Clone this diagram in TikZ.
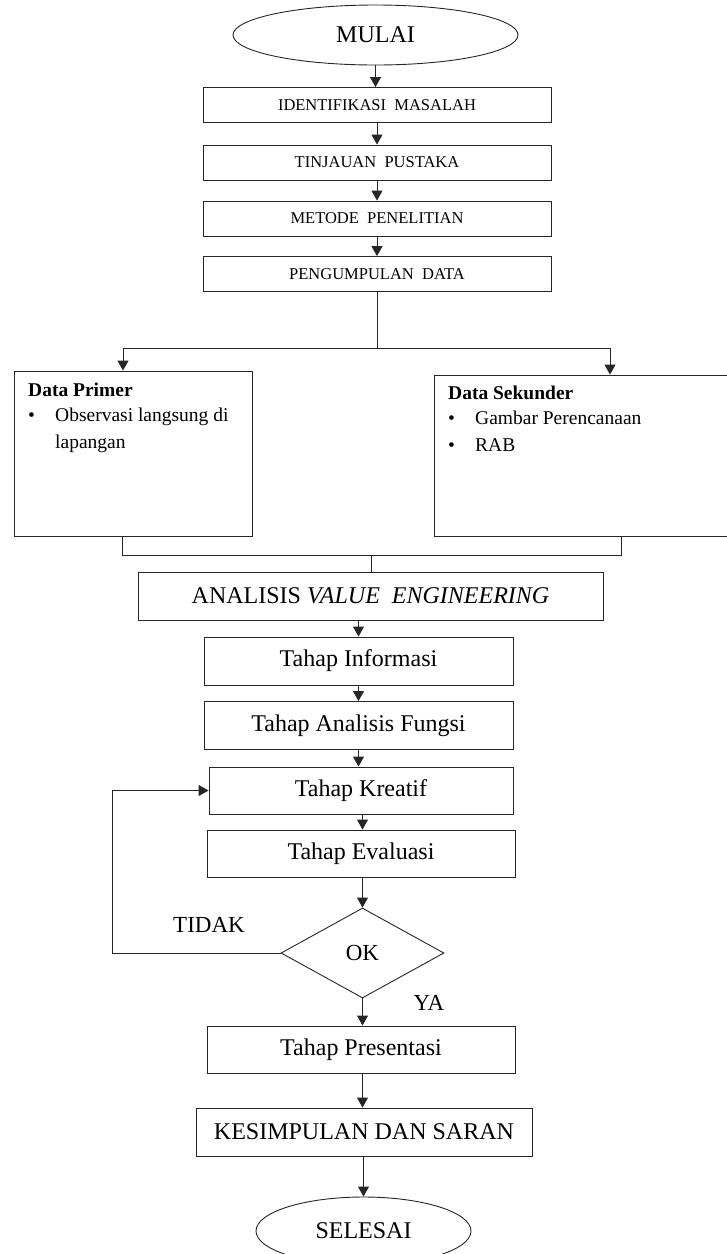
\documentclass[tikz,border=0pt]{standalone}
\usepackage{fontspec}
\setmainfont{Liberation Serif}
\usetikzlibrary{shapes.geometric,arrows.meta,calc}
\begin{document}
\begin{tikzpicture}[x=1pt,y=-1pt,
  line/.style={draw=black!85, line width=0.9pt},
  arr/.style={line, -{Triangle[length=10pt,width=11pt]}},
  bigfont/.style={font=\fontsize{24}{28}\selectfont},
  topbox/.style={rectangle, line, inner sep=0pt, minimum width=348pt,
    minimum height=35pt, font=\fontsize{16.5}{19}\selectfont},
  midbox/.style={rectangle, line, inner sep=0pt, minimum height=48pt, bigfont},
  term/.style={ellipse, line, inner sep=0pt, bigfont},
  databox/.style={rectangle, line, inner sep=0pt},
  datatext/.style={anchor=base west, inner sep=0pt, font=\fontsize{19.5}{23}\selectfont},
  lbl/.style={inner sep=0pt, font=\fontsize{23}{27}\selectfont}]

\useasboundingbox (0,0) rectangle (727,1254);
\clip (0,0) rectangle (727,1254);

% preparation stages
\node[term, minimum width=285pt, minimum height=60pt] (mulai) at (375.5,35) {MULAI};
\node[topbox] (ident)  at (377,105)   {IDENTIFIKASI\ \ MASALAH};
\node[topbox] (tinjau) at (377,162.5) {TINJAUAN\ \ PUSTAKA};
\node[topbox] (metode) at (377,218.5) {METODE\ \ PENELITIAN};
\node[topbox] (kumpul) at (377,274)   {PENGUMPULAN\ \ DATA};

% data sources
\node[databox, minimum width=238pt, minimum height=165pt] (primer) at (133,453.5) {};
\node[databox, minimum width=310pt, minimum height=161pt] (sekunder) at (589,455.5) {};

\node[datatext, font=\fontsize{19.5}{23}\selectfont\bfseries] (primerjudul) at (28,396) {Data Primer};
\node[datatext] (primerb1) at (28,421.5) {\textbullet};
\node[datatext] (primert1) at (55,421.5) {Observasi langsung di};
\node[datatext] (primert2) at (55,448.5) {lapangan};

\node[datatext, font=\fontsize{19.5}{23}\selectfont\bfseries] (sekjudul) at (448,399.5) {Data Sekunder};
\node[datatext] (sekb1) at (448,424.5) {\textbullet};
\node[datatext] (sekt1) at (475,424.5) {Gambar Perencanaan};
\node[datatext] (sekb2) at (448,451.5) {\textbullet};
\node[datatext] (sekt2) at (475,451.5) {RAB};

% value engineering stages
\node[midbox, minimum width=465pt] (analisis) at (370.5,596) {ANALISIS \textit{VALUE\ \ ENGINEERING}};
\node[midbox, minimum width=309pt] (info)     at (358.5,661)   {Tahap Informasi};
\node[midbox, minimum width=309pt] (fungsi)   at (358.5,725.5) {Tahap Analisis Fungsi};
\node[midbox, minimum width=304pt, minimum height=47pt] (kreatif)  at (361,790.5) {Tahap Kreatif};
\node[midbox, minimum width=308pt, minimum height=47pt] (evaluasi) at (361,853.5) {Tahap Evaluasi};
\node[diamond, line, aspect=1.81, inner sep=0pt, minimum width=163pt,
  minimum height=90pt, font=\fontsize{23}{27}\selectfont] (ok) at (362.5,953) {OK};
\node[midbox, minimum width=308pt, minimum height=47pt] (presentasi) at (361,1049.5) {Tahap Presentasi};
\node[midbox, minimum width=336pt] (simpul) at (364,1132) {KESIMPULAN DAN SARAN};
\node[term, minimum width=215pt, minimum height=68pt] (selesai) at (363.5,1231) {SELESAI};

\node[lbl] (tidak) at (209,925) {TIDAK};
\node[lbl] (ya) at (429,1003) {YA};

% connectors
\draw[arr] (mulai.south) -- (mulai.south |- ident.north);
\draw[arr] (ident.south) -- (tinjau.north);
\draw[arr] (tinjau.south) -- (metode.north);
\draw[arr] (metode.south) -- (kumpul.north);

\coordinate (split) at (377,348);
\coordinate (lefttap) at (123,348);
\coordinate (righttap) at (610,348);
\draw[line] (kumpul.south) -- (split);
\draw[arr] (split) -- (lefttap) -- (lefttap |- primer.north);
\draw[arr] (split) -- (righttap) -- (righttap |- sekunder.north);

\coordinate (joinL) at (122,555);
\coordinate (joinR) at (621,555);
\coordinate (joinM) at (371,555);
\draw[line] (joinL |- primer.south) -- (joinL) -- (joinR) -- (joinR |- sekunder.south);
\draw[line] (joinM) -- (joinM |- analisis.north);

\draw[arr] (analisis.south -| info.north) -- (info.north);
\draw[arr] (info.south) -- (fungsi.north);
\draw[arr] (fungsi.south) -- (fungsi.south |- kreatif.north);
\draw[arr] (kreatif.south -| ok.north) -- (evaluasi.north -| ok.north);
\draw[arr] (evaluasi.south -| ok.north) -- (ok.north);

\coordinate (loopc) at (112,953);
\draw[arr] (ok.west) -- (loopc) |- (kreatif.west);

\draw[arr] (ok.south) -- (ok.south |- presentasi.north);
\draw[arr] (presentasi.south -| ok.south) -- (simpul.north -| ok.south);
\draw[arr] (simpul.south -| selesai.north) -- (selesai.north);
\end{tikzpicture}
\end{document}
